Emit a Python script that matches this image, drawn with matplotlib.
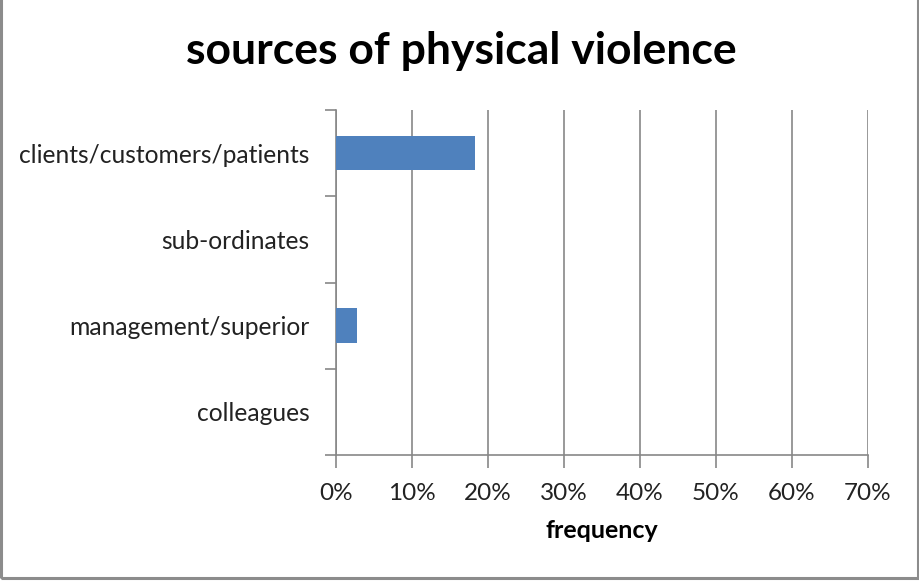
import matplotlib
matplotlib.use("Agg")
import matplotlib.pyplot as plt
from matplotlib.patches import Rectangle
import numpy as np

plt.rcParams['font.family'] = ['Lato', 'DejaVu Sans']

categories = ["clients/customers/patients", "sub-ordinates",
              "management/superior", "colleagues"]
values = [18.3, 0.0, 2.8, 0.0]  # percent
xticks = [0, 10, 20, 30, 40, 50, 60, 70]
xticklabels = [f"{t}%" for t in xticks]

W, H = 920, 581
fig = plt.figure(figsize=(W / 100, H / 100), dpi=100)
fig.patch.set_facecolor("white")

# chart frame
fig.add_artist(Rectangle((1 / W, 3 / H), 917 / W, 580 / H, transform=fig.transFigure,
                         fill=False, edgecolor="#8c8c8c", linewidth=2.2))

left, right, top, bottom = 336, 868, 110, 455
ax = fig.add_axes([left / W, 1 - bottom / H, (right - left) / W, (bottom - top) / H])

n = len(categories)
pos = np.arange(n)[::-1]
ax.barh(pos, values, height=0.4, color="#4F81BD", zorder=3)

ax.set_xlim(0, 70)
ax.set_ylim(-0.5, n - 0.5)
ax.set_xticks(xticks)
ax.set_xticklabels(xticklabels, fontsize=17.5, color="#222222")
ax.grid(axis="x", color="#878787", linewidth=1.2, zorder=0)

# category boundaries as major ticks, labels at centers
ax.set_yticks(np.arange(-0.5, n, 1.0))
ax.set_yticklabels([])
ax.set_yticks(pos, minor=True)
ax.set_yticklabels(categories, minor=True, fontsize=17.7, color="#222222")
ax.tick_params(axis="y", which="minor", length=0, pad=19)
ax.tick_params(axis="y", which="major", length=8, width=1.2, color="#878787")
ax.tick_params(axis="x", length=9, width=1.2, color="#878787", pad=11)

for s in ["top", "right"]:
    ax.spines[s].set_visible(False)
for s in ["left", "bottom"]:
    ax.spines[s].set_color("#878787")
    ax.spines[s].set_linewidth(1.2)

ax.set_xlabel("frequency", fontsize=18, fontweight="bold", labelpad=11)
fig.text(461 / W, 1 - 51 / H, "sources of physical violence", ha="center", va="center",
         fontsize=32, fontweight="bold")

fig.savefig("out.png", dpi=100)
